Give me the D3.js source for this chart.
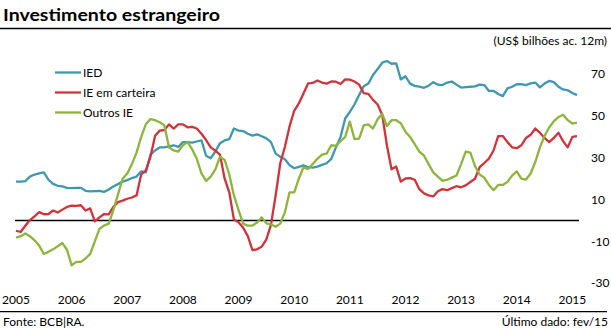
<!DOCTYPE html>
<html>
<head>
<meta charset="utf-8">
<script src="https://cdn.jsdelivr.net/npm/d3@7"></script>
<style>
html,body{margin:0;padding:0;background:#fff;}
svg{display:block;font-family:Lato,"Open Sans",sans-serif;}
</style>
</head>
<body>
<svg id="chart" width="611" height="329"></svg>
<script>
// Categories: monthly, Jan 2005 .. Feb 2015
const months = d3.timeMonth.range(new Date(2005, 0, 1), new Date(2015, 2, 1));
const yearLabels = ["2005","2006","2007","2008","2009","2010","2011","2012","2013","2014","2015"];
const yTicks = [70, 50, 30, 10, -10, -30];
const seriesNames = ["IED", "IE em carteira", "Outros IE"];
const seriesColors = ["#3d98b2", "#d0333a", "#8db53b"];

// US$ bilhões, acumulado 12 meses
const ied = [18.6,18.6,18.8,21,22,22.5,23,19.5,17.5,16.6,16.3,15.6,
  15.5,15.6,15.6,14.2,13.9,14.1,14.2,13.7,14.8,16.3,17.4,18.6,
  19.3,20.3,21,23.5,23,31.5,33.5,35,35,35.5,36,35.2,
  37.5,37.5,37.3,37.8,38.3,31,29.8,33,37,38.3,38.9,44,
  43,42.8,41.5,40.6,41.2,40.3,39.3,37.5,32,30.5,29.3,26.5,
  25,25.7,26.4,25.5,25.3,25.8,26.6,27.4,29.5,35,40,48.8,
  52,55.5,60,64.2,65.5,69.6,72.5,75.5,76.3,75,75.2,67.5,
  69,65.5,64.4,64,63.5,64.5,66.2,65,64.8,66,66.5,65,
  63.6,63.8,64,64.2,65,64.8,62,62,60.5,59.5,63.2,64,
  65.2,65.2,64.8,65.6,66,63.7,65.5,66.8,66.2,64,62.7,62.3,
  61,60];
const carteira = [-4.9,-5.5,-2.5,0.2,2,4,3,3.1,4.8,3.8,5.2,6.5,
  7.1,7,7.3,4.8,5.8,-0.4,1.5,3.1,2.9,6.5,8.8,9.5,
  10.4,11,12,22,24,30.5,40.5,43,43.3,46,44,46,
  46,44.6,44.8,44,41.5,38.5,35,33.4,31.5,20,13.5,0.5,
  -0.8,-3.5,-7.5,-14.2,-13.8,-12.5,-9,-2,12,27.4,35.3,45,
  52.5,56,60.8,65.6,65.8,67,66,65.5,66.5,66.4,65.3,67.5,
  67.4,66.5,65,61,60.6,57.7,55.5,50.5,36,24.5,25.8,18.6,
  20.1,20.3,19.5,15,13,12,11.5,14,15,14.5,15.5,16.4,
  15.9,16.8,18.4,20,25.5,27.5,29.6,33.5,40.4,40.4,37.5,35,
  34.6,36,39.5,41,44,42,39.5,37.5,39.5,42,38,35,
  40,40.4];
const outros = [-8.2,-7.5,-6.2,-7.5,-9.5,-12,-16,-15,-13.8,-12.3,-10.8,-14,
  -21.5,-19.8,-19.8,-18.2,-16,-10,-4,-2.4,-1.5,5,12.5,20,
  22.5,27,32.5,40,46,48.5,48,47,45.5,35,33.5,33,
  36,37.5,34,29.5,22.5,19,21,24.5,30.5,29,22,12,
  5,-1.5,-2.5,-2.4,-1,1.5,-1.4,-1.8,-3,-1.5,4,13.5,
  13.5,20,25.5,24.6,27,29.5,31.5,32,36,35.7,38,40,
  47.3,39,39.2,45.5,46,44,48.5,51,45.2,48,48,46.5,
  42.5,40,36.5,33,31,27,23,21,19,19.5,20.5,21.5,
  27,33,32.5,26,22,20.5,17,14.5,17,17,18.5,21.5,
  23.5,20,19.6,22.5,28,35,40.5,44.5,47.5,49.5,50.6,48,
  46.4,46.8];

const series = [ied, carteira, outros];

const svg = d3.select("#chart");

const x = d3.scaleLinear().domain([0, months.length - 1]).range([16, 577]);
const y = d3.scaleLinear().domain([-30, 70]).range([283.2, 74.2]);

// Title
svg.append("text")
  .attr("x", 3).attr("y", 21)
  .attr("font-size", 17).attr("font-weight", "bold")
  .attr("fill", "#000")
  .attr("textLength", 217).attr("lengthAdjust", "spacingAndGlyphs")
  .text("Investimento estrangeiro");
svg.append("line")
  .attr("x1", 0).attr("x2", 611).attr("y1", 28.5).attr("y2", 28.5)
  .attr("stroke", "#000").attr("stroke-width", 1.5);

svg.append("text")
  .attr("x", 607).attr("y", 45)
  .attr("text-anchor", "end")
  .attr("font-size", 12).attr("fill", "#000")
  .text("(US$ bilhões ac. 12m)");

// Right axis labels
svg.append("g").selectAll("text").data(yTicks).join("text")
  .attr("x", 591).attr("y", d => y(d))
  .attr("dy", "0.35em")
  .attr("font-size", 12).attr("fill", "#000")
  .text(d => d);

// Zero line
svg.append("line")
  .attr("x1", x.range()[0] - 1).attr("x2", x.range()[1] + 2)
  .attr("y1", y(0)).attr("y2", y(0))
  .attr("stroke", "#000").attr("stroke-width", 1.3);

// Year labels
svg.append("g").selectAll("text").data(yearLabels).join("text")
  .attr("x", (d, k) => x(k * 12))
  .attr("y", 304)
  .attr("text-anchor", "middle")
  .attr("font-size", 12).attr("fill", "#000")
  .text(d => d);

// Lines
const line = d3.line().x((d, i) => x(i)).y(d => y(d));
svg.append("g").selectAll("path").data(series).join("path")
  .attr("d", d => line(d))
  .attr("fill", "none")
  .attr("stroke", (d, i) => seriesColors[i])
  .attr("stroke-width", 2.3)
  .attr("stroke-linejoin", "round");

// Legend
const legendY = [72.5, 92.5, 112.5];
const lg = svg.append("g").selectAll("g").data(seriesNames).join("g")
  .attr("transform", (d, i) => `translate(55,${legendY[i]})`);
lg.append("line").attr("x1", 0).attr("x2", 26).attr("y1", 0).attr("y2", 0)
  .attr("stroke", (d, i) => seriesColors[i]).attr("stroke-width", 2.3);
lg.append("text").attr("x", 28).attr("y", 0).attr("dy", "0.35em")
  .attr("font-size", 12).attr("fill", "#000")
  .text(d => d);

// Footer
svg.append("line")
  .attr("x1", 0).attr("x2", 607).attr("y1", 311.7).attr("y2", 311.7)
  .attr("stroke", "#000").attr("stroke-width", 1.3);
svg.append("text").attr("x", 3).attr("y", 325.5)
  .attr("font-size", 12).attr("fill", "#000")
  .text("Fonte: BCB|RA.");
svg.append("text").attr("x", 608).attr("y", 325.5)
  .attr("text-anchor", "end")
  .attr("font-size", 12).attr("fill", "#000")
  .text("Último dado: fev/15");
</script>
</body>
</html>
